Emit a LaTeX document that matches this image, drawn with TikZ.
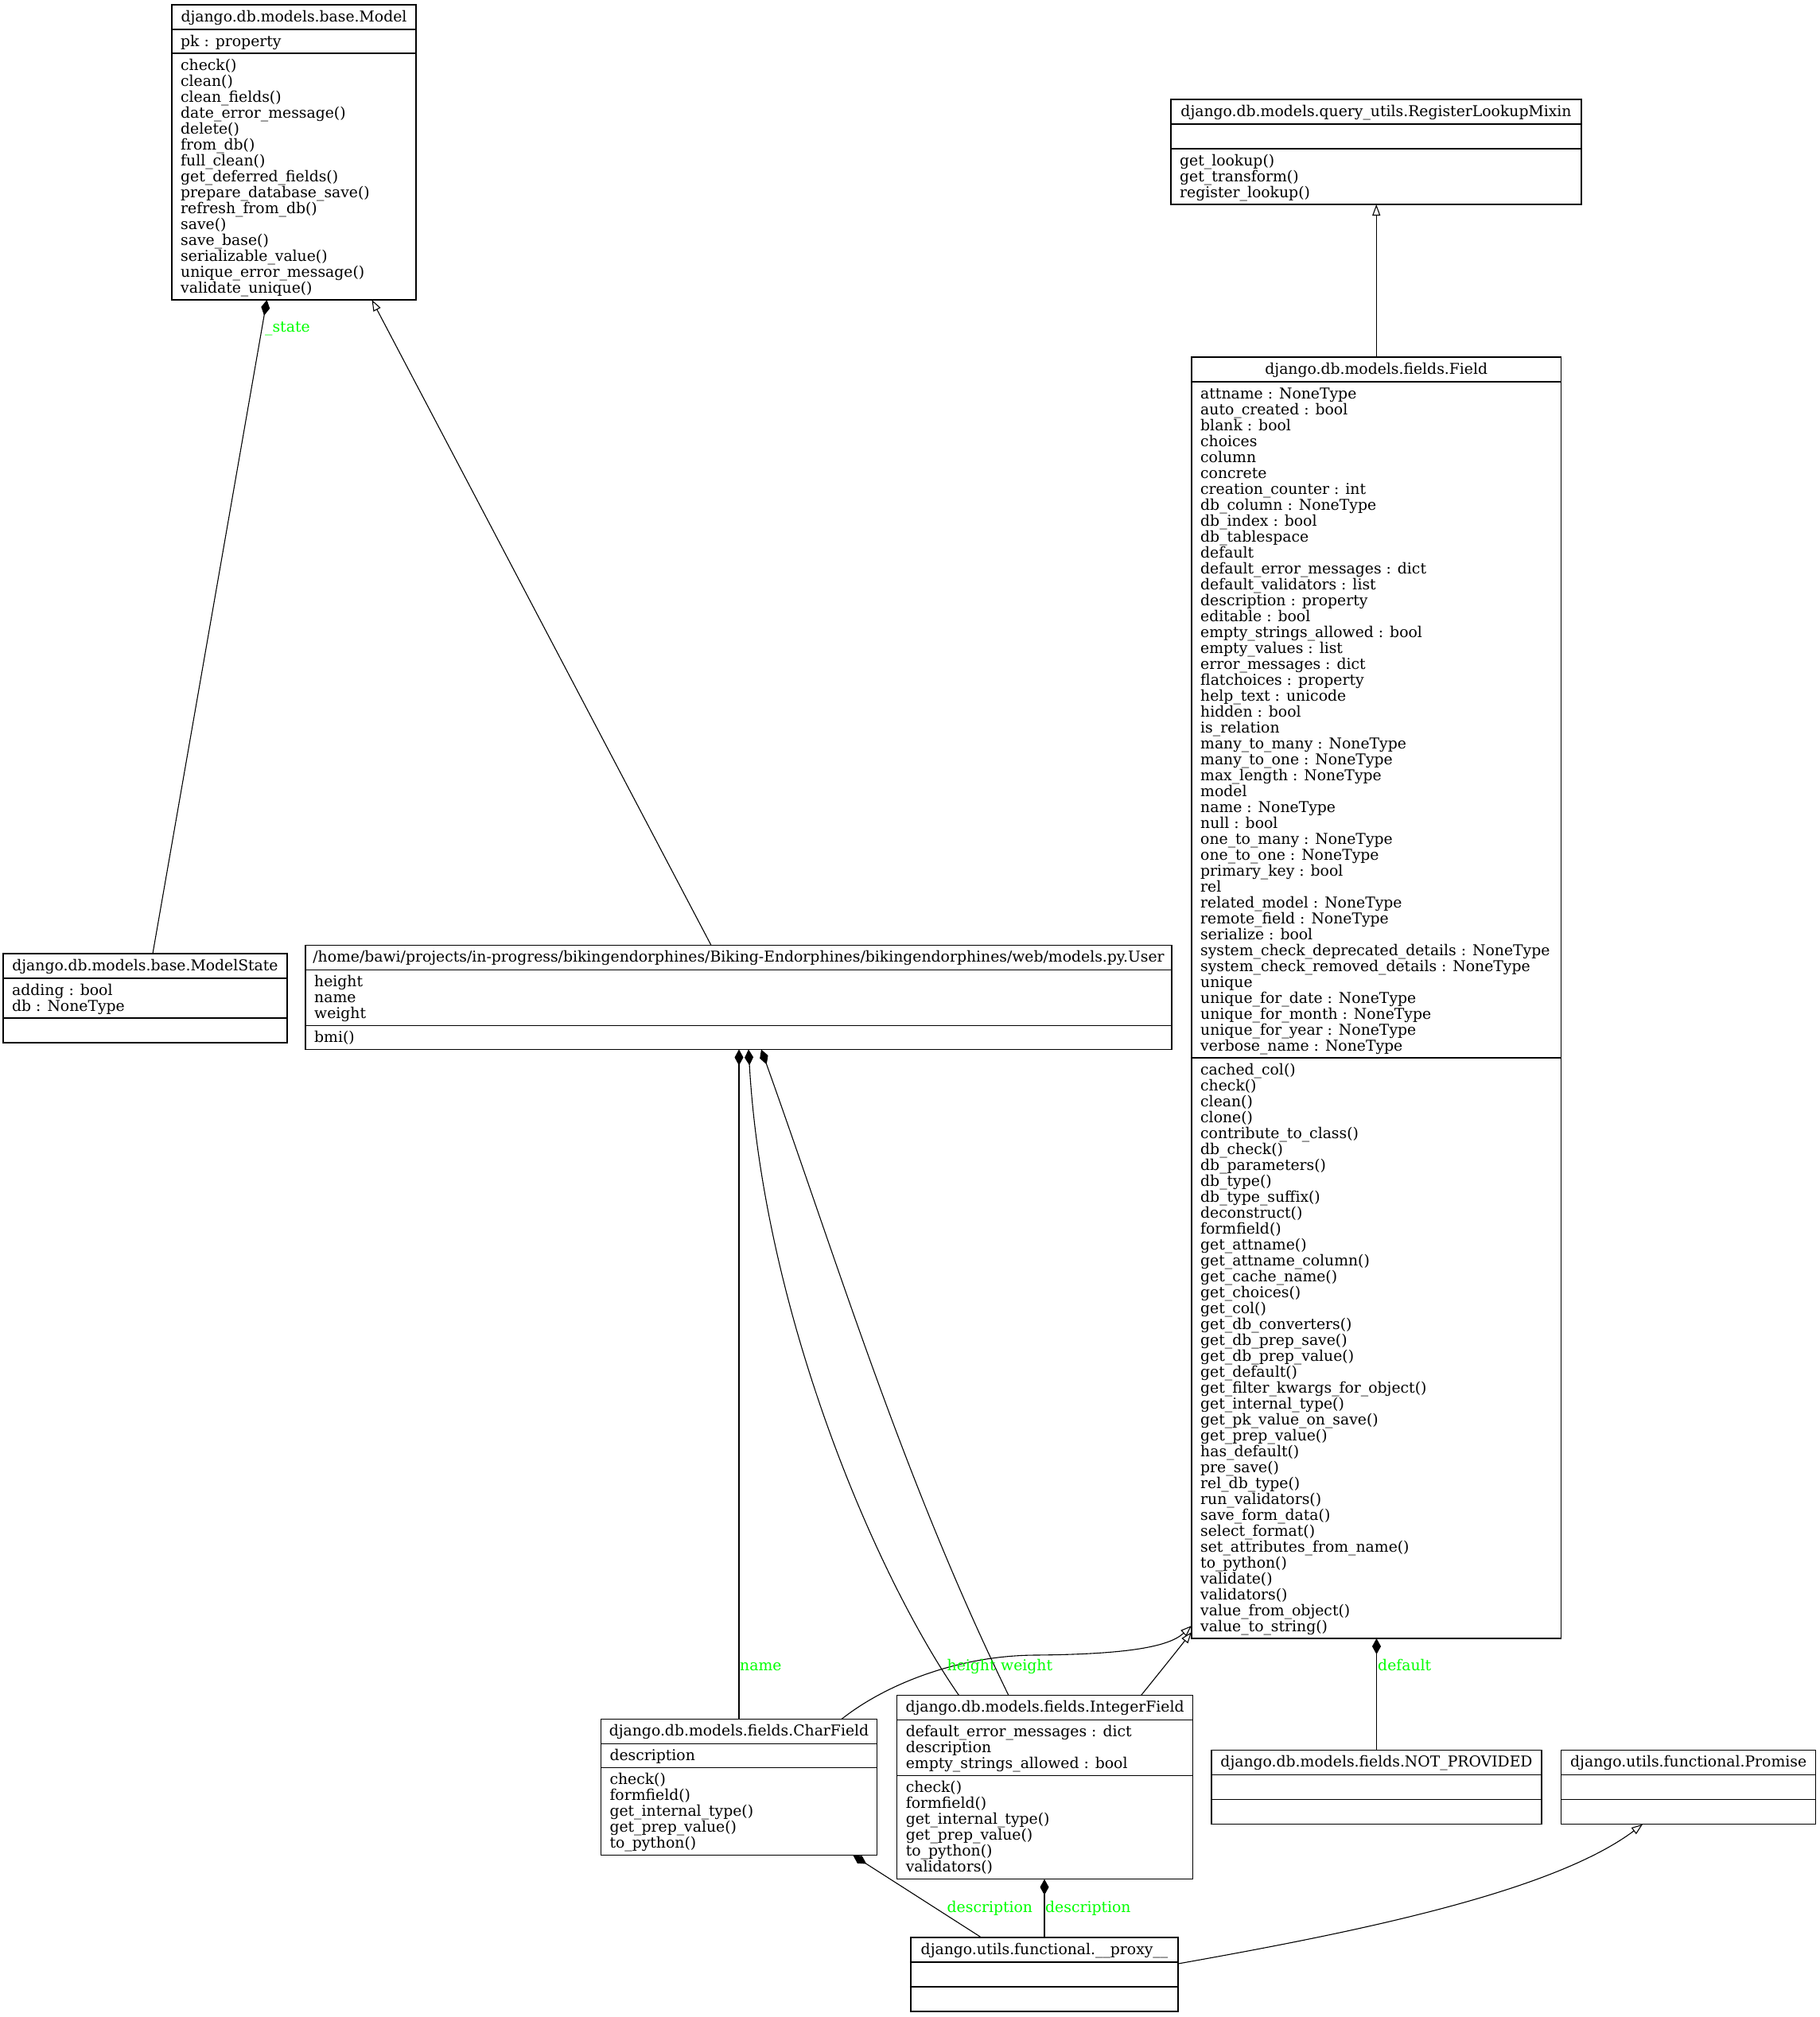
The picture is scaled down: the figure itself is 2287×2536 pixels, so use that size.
\documentclass[tikz,border=0pt]{standalone}
\usepackage{fontspec}
\setmainfont{DejaVu Serif}
\usetikzlibrary{arrows.meta,calc}
\definecolor{lblgreen}{RGB}{0,255,0}
\tikzset{
  box/.style={draw=black, line width=1.4pt, inner sep=0pt, outer sep=0pt, anchor=north west},
  divider/.style={line width=1.4pt},
  txt/.style={inner sep=0pt, font=\fontsize{18.8}{20}\selectfont},
  lbl/.style={txt, text=lblgreen, anchor=base west},
  comp/.style={line width=1.1pt, -{Diamond[length=20pt,width=11pt]}},
  inh/.style={line width=1.1pt, -{Triangle[open,length=14pt,width=10pt,fill=white]}},
}
% #1 name, #2 x, #3 y, #4 width, #5 title, #6 n attrs, #7 attrs, #8 n methods, #9 methods
\newcommand\umlclass[9]{%
  \pgfmathsetmacro\ha{(#6==0) ? 31 : 20*#6+10}%
  \pgfmathsetmacro\hm{(#8==0) ? 31 : 20*#8+10}%
  \pgfmathsetmacro\htot{31+\ha+\hm}%
  \pgfmathsetmacro\yb{31+\ha}%
  \node[box, minimum width=#4pt, minimum height=\htot pt] (#1) at (#2,#3) {};
  \draw[divider] ($(#1.north west)+(0,31)$) -- ($(#1.north east)+(0,31)$);
  \draw[divider] ($(#1.north west)+(0,\yb)$) -- ($(#1.north east)+(0,\yb)$);
  \node[txt, anchor=base] (#1-title) at ($(#1.north)+(0,21)$) {#5};
  \ifnum#6>0
    \foreach \t [count=\i from 0] in {#7} {\node[txt, anchor=base west] (#1-a\i) at ($(#1.north west)+(11,52+20*\i)$) {\t};}
  \fi
  \ifnum#8>0
    \foreach \t [count=\i from 0] in {#9} {\node[txt, anchor=base west] (#1-m\i) at ($(#1.north west)+(11,\yb+21+20*\i)$) {\t};}
  \fi
}
\begin{document}
\begin{tikzpicture}[x=1pt,y=-1pt]
\fill[white] (0,0) rectangle (2287,2536);
\useasboundingbox (0,0) rectangle (2287,2536);

\umlclass{model}{216}{6}{307}{django.db.models.base.Model}{1}{pk : property}{15}{check(), clean(), clean\_fields(), date\_error\_message(), delete(), from\_db(), full\_clean(), get\_deferred\_fields(), prepare\_database\_save(), refresh\_from\_db(), save(), save\_base(), serializable\_value(), unique\_error\_message(), validate\_unique()}

\umlclass{mixin}{1472}{125}{516}{django.db.models.query\_utils.RegisterLookupMixin}{0}{}{3}{get\_lookup(), get\_transform(), register\_lookup()}

\umlclass{field}{1498}{449}{464.5}{django.db.models.fields.Field}{42}{attname : NoneType, auto\_created : bool, blank : bool, choices, column, concrete, creation\_counter : int, db\_column : NoneType, db\_index : bool, db\_tablespace, default, default\_error\_messages : dict, default\_validators : list, description : property, editable : bool, empty\_strings\_allowed : bool, empty\_values : list, error\_messages : dict, flatchoices : property, help\_text : unicode, hidden : bool, is\_relation, many\_to\_many : NoneType, many\_to\_one : NoneType, max\_length : NoneType, model, name : NoneType, null : bool, one\_to\_many : NoneType, one\_to\_one : NoneType, primary\_key : bool, rel, related\_model : NoneType, remote\_field : NoneType, serialize : bool, system\_check\_deprecated\_details : NoneType, system\_check\_removed\_details : NoneType, unique, unique\_for\_date : NoneType, unique\_for\_month : NoneType, unique\_for\_year : NoneType, verbose\_name : NoneType}{36}{cached\_col(), check(), clean(), clone(), contribute\_to\_class(), db\_check(), db\_parameters(), db\_type(), db\_type\_suffix(), deconstruct(), formfield(), get\_attname(), get\_attname\_column(), get\_cache\_name(), get\_choices(), get\_col(), get\_db\_converters(), get\_db\_prep\_save(), get\_db\_prep\_value(), get\_default(), get\_filter\_kwargs\_for\_object(), get\_internal\_type(), get\_pk\_value\_on\_save(), get\_prep\_value(), has\_default(), pre\_save(), rel\_db\_type(), run\_validators(), save\_form\_data(), select\_format(), set\_attributes\_from\_name(), to\_python(), validate(), validators(), value\_from\_object(), value\_to\_string()}

\umlclass{modelstate}{4}{1199}{357}{django.db.models.base.ModelState}{2}{adding : bool, db : NoneType}{0}{}

\umlclass{user}{384}{1188.5}{1089}{/home/bawi/projects/in-progress/bikingendorphines/Biking-Endorphines/bikingendorphines/web/models.py.User}{3}{height, name, weight}{1}{bmi()}

\umlclass{charfield}{755.3}{2161.7}{347.4}{django.db.models.fields.CharField}{1}{description}{5}{check(), formfield(), get\_internal\_type(), get\_prep\_value(), to\_python()}

\umlclass{intfield}{1127.6}{2131.7}{371.9}{django.db.models.fields.IntegerField}{3}{default\_error\_messages : dict, description, empty\_strings\_allowed : bool}{6}{check(), formfield(), get\_internal\_type(), get\_prep\_value(), to\_python(), validators()}

\umlclass{proxy}{1145}{2436}{336}{django.utils.functional.\_\_proxy\_\_}{0}{}{0}{}

\umlclass{notprov}{1523}{2200.7}{415}{django.db.models.fields.NOT\_PROVIDED}{0}{}{0}{}

\umlclass{promise}{1962.6}{2200.7}{320.1}{django.utils.functional.Promise}{0}{}{0}{}

% connectors
\draw[comp] ($(modelstate.north west)+(188,0)$) -- ($(model.south west)+(119.5,0)$);
\draw[inh] ($(user.north west)+(510,0)$) -- ($(model.south west)+(251.5,0)$);
\draw[inh] (field.north) -- (field.north |- mixin.south);
\draw[comp] (charfield.north) -- (charfield.north |- user.south);
\draw[comp] ($(intfield.north west)+(78,0)$) .. controls (1100,1980) and (960,1650) .. ($(user.south west)+(557,0)$);
\draw[comp] ($(intfield.north west)+(140.4,0)$) .. controls (1136,1861) and (1054,1591) .. ($(user.south west)+(573,0)$);
\draw[inh] ($(charfield.north west)+(302.4,0)$) .. controls (1110,2120) and (1200,2082) .. (1300,2081) .. controls (1420,2080) and (1470,2070) .. ($(field.south west)+(0,-16)$);
\draw[inh] ($(intfield.north west)+(306.8,0)$) .. controls (1460,2100) and (1480,2075) .. ($(field.south west)+(0,-8)$);
\draw[comp] ($(proxy.north west)+(88.7,0)$) -- ($(charfield.south west)+(317.1,0)$);
\draw[comp] (proxy.north) -- (proxy.north |- intfield.south);
\draw[comp] (notprov.north) -- (notprov.north |- field.south);
\draw[inh] ($(proxy.north east)+(0,33)$) .. controls (1700,2430) and (1950,2380) .. ($(promise.south west)+(102.4,0)$);

% labels
\node[lbl] (lstate) at (333,417) {\_state};
\node[lbl] (lname) at (930,2100) {name};
\node[lbl] (lheight) at (1190.5,2100) {height};
\node[lbl] (lweight) at (1258,2100) {weight};
\node[lbl] (ldesca) at (1190.5,2404) {description};
\node[lbl] (ldescb) at (1314,2404) {description};
\node[lbl] (ldefault) at (1732,2100) {default};
\end{tikzpicture}
\end{document}
